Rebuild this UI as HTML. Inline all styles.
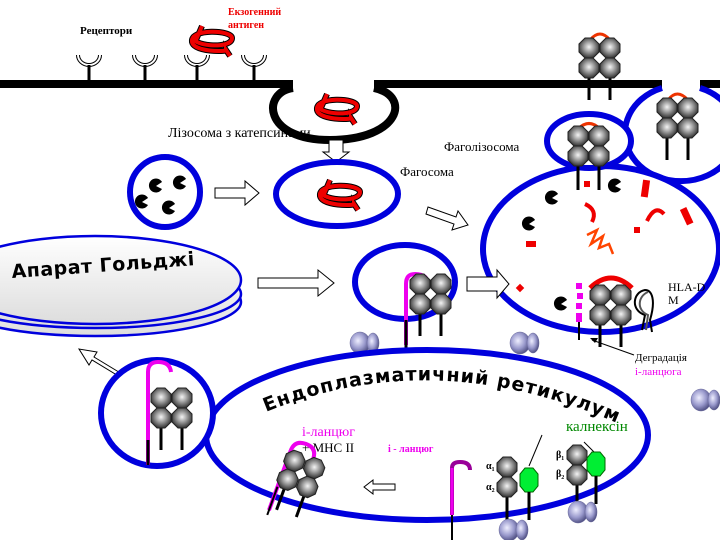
<!DOCTYPE html>
<html><head><meta charset="utf-8"><style>html,body{margin:0;padding:0;background:#fff}svg{display:block}</style></head>
<body>
<svg width="720" height="540" viewBox="0 0 720 540" xmlns="http://www.w3.org/2000/svg" font-family="'Liberation Serif',serif">
<defs>
<radialGradient id="gb" cx="50%" cy="45%" r="55%"><stop offset="0" stop-color="#f4f4f4"/><stop offset="0.45" stop-color="#a0a0a0"/><stop offset="1" stop-color="#333"/></radialGradient>
<radialGradient id="rb" cx="40%" cy="40%" r="60%"><stop offset="0" stop-color="#eef"/><stop offset="0.6" stop-color="#99c"/><stop offset="1" stop-color="#558"/></radialGradient>
<linearGradient id="gg" x1="0" y1="0" x2="0" y2="1"><stop offset="0" stop-color="#fff"/><stop offset="1" stop-color="#ddd"/></linearGradient>
<g id="ball"><polygon points="-4,-10 4,-10 10,-4 10,4 4,10 -4,10 -10,4 -10,-4" fill="url(#gb)" stroke="#222" stroke-width="1"/></g>
<g id="chain"><line x1="0" y1="0" x2="0" y2="52" stroke="#000" stroke-width="3"/><use href="#ball"/><use href="#ball" y="20"/></g>
<g id="mhc"><use href="#chain" x="-11"/><use href="#chain" x="10"/></g>
<g id="rib"><ellipse cx="-5" cy="0" rx="10" ry="11" fill="url(#rb)" stroke="#669" stroke-width="0.5"/><ellipse cx="8" cy="0" rx="6" ry="10" fill="url(#rb)" stroke="#669" stroke-width="0.5"/></g>
<g id="pac"><path d="M6,-3 A7,7 0 1,0 6,4 L0,1 Z" fill="#000"/></g>
<g id="rec"><path d="M-11,-9 A11,10 0 0,0 11,-9" fill="none" stroke="#000" stroke-width="4"/><path d="M-11,-9 A11,10 0 0,0 11,-9" fill="none" stroke="#fff" stroke-width="2"/><line x1="0" y1="1" x2="0" y2="20" stroke="#000" stroke-width="3"/></g>
<g id="ag"><path d="M-10,-14 L-16,0 M-18,-4 C-24,6 20,10 20,-2 C20,-10 -22,-12 -20,2 C-18,12 14,12 14,10 L18,16" fill="none" stroke="#000" stroke-width="6"/><path d="M-10,-14 L-16,0 M-18,-4 C-24,6 20,10 20,-2 C20,-10 -22,-12 -20,2 C-18,12 14,12 14,10 L18,16" fill="none" stroke="#e00" stroke-width="4"/></g>
<g id="oct"><polygon points="-4,-12 4,-12 9,-6 9,6 4,12 -4,12 -9,6 -9,-6" fill="#0e3" stroke="#060" stroke-width="1"/><line x1="0" y1="12" x2="0" y2="40" stroke="#000" stroke-width="3"/></g>
</defs>

<line x1="0" y1="84" x2="293" y2="84" stroke="#000" stroke-width="8"/>
<line x1="374" y1="84" x2="662" y2="84" stroke="#000" stroke-width="8"/>
<line x1="700" y1="84" x2="720" y2="84" stroke="#000" stroke-width="8"/>
<path d="M293,88 C262,92 262,140 330,140 C400,140 412,96 374,88" fill="none" stroke="#000" stroke-width="8"/>
<use href="#ag" x="337" y="108"/>

<use href="#rec" x="89" y="64"/><use href="#rec" x="145" y="64"/><use href="#rec" x="197" y="64"/><use href="#rec" x="254" y="64"/>
<text x="80" y="34" font-size="11" font-weight="bold">Рецептори</text>
<text x="228" y="15" font-size="10" font-weight="bold" fill="#e00">Екзогенний</text>
<text x="228" y="28" font-size="10" font-weight="bold" fill="#e00">антиген</text>
<use href="#ag" x="212" y="40"/>

<text x="168" y="137" font-size="14">Лізосома з катепсинами</text>
<path d="M329,140 h14 v12 h6 l-13,10 l-13,-10 h6 z" fill="#fff" stroke="#000" stroke-width="1"/>

<circle cx="165" cy="192" r="35" fill="#fff" stroke="#00d" stroke-width="6"/>
<use href="#pac" x="156" y="185"/><use href="#pac" x="180" y="182"/><use href="#pac" x="142" y="201"/><use href="#pac" x="169" y="207"/>
<path d="M215,188 h30 v-7 l14,12 l-14,12 v-7 h-30 z" fill="#fff" stroke="#000"/>

<ellipse cx="337" cy="194" rx="61" ry="32" fill="#fff" stroke="#00d" stroke-width="6"/>
<use href="#ag" x="340" y="194"/>
<text x="400" y="176" font-size="13">Фагосома</text>
<text x="444" y="151" font-size="13">Фаголізосома</text>
<path d="M428,207 l28,10 l2,-6 l10,14 l-16,5 l2,-6 l-28,-10 z" fill="#fff" stroke="#000"/>

<path d="M662,88 A56,48 0 1,0 700,88" fill="none" stroke="#00d" stroke-width="6"/>
<path d="M668,100 Q677,88 688,100" fill="none" stroke="#e30" stroke-width="3"/>
<use href="#mhc" x="678" y="108"/>
<path d="M590,40 Q600,28 610,40" fill="none" stroke="#e30" stroke-width="3"/>
<use href="#mhc" x="600" y="48"/>

<ellipse cx="601" cy="249" rx="118" ry="83" fill="#fff" stroke="#00d" stroke-width="6"/>
<ellipse cx="589" cy="141" rx="42" ry="27" fill="#fff" stroke="#00d" stroke-width="6"/>
<path d="M578,129 Q589,118 600,129" fill="none" stroke="#e30" stroke-width="3"/>
<use href="#mhc" x="589" y="136"/>
<line x1="578" y1="170" x2="578" y2="190" stroke="#000" stroke-width="3"/><line x1="599" y1="170" x2="599" y2="190" stroke="#000" stroke-width="3"/>
<rect x="584" y="181" width="6" height="6" fill="#e00"/>
<use href="#pac" x="615" y="185"/><use href="#pac" x="552" y="197"/><use href="#pac" x="529" y="223"/><use href="#pac" x="561" y="303"/>
<rect x="642" y="180" width="7" height="17" fill="#e00" transform="rotate(8 645 188)"/>
<rect x="683" y="208" width="7" height="17" fill="#e00" transform="rotate(-25 686 216)"/>
<rect x="634" y="227" width="6" height="6" fill="#e00"/><rect x="526" y="241" width="10" height="6" fill="#e00"/>
<rect x="517" y="285" width="6" height="6" fill="#e00" transform="rotate(45 520 288)"/>
<path d="M585,204 Q598,210 592,222" fill="none" stroke="#e00" stroke-width="4"/>
<path d="M647,221 Q655,204 664,214" fill="none" stroke="#e00" stroke-width="4"/>
<path d="M587,235 l10,-5 l-6,14 l12,-8 l-4,12 l10,-4 l4,10" fill="none" stroke="#f40" stroke-width="2.5"/>
<path d="M590,288 Q611,268 632,288" fill="none" stroke="#e00" stroke-width="5"/>
<use href="#mhc" x="611" y="295"/>
<rect x="576" y="283" width="6" height="6" fill="#e0e"/><rect x="577" y="293" width="6" height="6" fill="#e0e"/><rect x="576" y="303" width="6" height="6" fill="#e0e"/><rect x="576" y="313" width="6" height="9" fill="#e0e"/>
<line x1="579" y1="322" x2="579" y2="340" stroke="#000" stroke-width="2"/>
<path d="M642,330 L645,315 C630,310 633,292 645,290 C652,290 656,300 650,320 L652,332" fill="none" stroke="#000" stroke-width="2"/>
<path d="M646,330 L648,315 C636,310 638,296 648,292" fill="none" stroke="#555" stroke-width="2"/>
<text x="668" y="291" font-size="12">HLA-D</text><text x="668" y="304" font-size="12">M</text>
<text x="635" y="361" font-size="11">Деградація</text>
<text x="635" y="375" font-size="11" fill="#e0e">і-ланцюга</text>
<line x1="634" y1="355" x2="592" y2="340" stroke="#000" stroke-width="1"/><path d="M590,338 l8,0 l-3,5 z" fill="#000"/>

<ellipse cx="405" cy="282" rx="50" ry="37" fill="#fff" stroke="#00d" stroke-width="6"/>
<path d="M406,345 V284 Q406,274 415,274 Q428,274 428,285" fill="none" stroke="#e0e" stroke-width="4"/>
<use href="#mhc" x="431" y="284"/>
<line x1="406" y1="320" x2="406" y2="352" stroke="#000" stroke-width="3"/>
<path d="M467,277 h30 v-7 l12,14 l-12,14 v-7 h-30 z" fill="#fff" stroke="#000"/>

<ellipse cx="95" cy="302" rx="146" ry="34" fill="url(#gg)" stroke="#00d" stroke-width="2.5"/>
<ellipse cx="95" cy="294" rx="146" ry="34" fill="url(#gg)" stroke="#00d" stroke-width="2.5"/>
<ellipse cx="95" cy="280" rx="146" ry="44" fill="url(#gg)" stroke="#00d" stroke-width="2.5"/>
<text x="12" y="278" font-family="'DejaVu Sans',sans-serif" font-size="19" font-weight="bold" letter-spacing="0.5" transform="rotate(-4 12 278)">Апарат Гольджі</text>
<path d="M258,278 h60 v-8 l16,13 l-16,13 v-8 h-60 z" fill="#fff" stroke="#000"/>
<path d="M125,380 l-33,-20 l-3,5 l-10,-16 l18,3 l-3,5 l33,20 z" fill="#fff" stroke="#000"/>

<use href="#rib" x="365" y="343"/><use href="#rib" x="525" y="343"/><use href="#rib" x="706" y="400"/>

<ellipse cx="427" cy="435" rx="221" ry="85" fill="none" stroke="#00d" stroke-width="6"/>
<ellipse cx="157" cy="413" rx="56" ry="53" fill="#fff" stroke="#00d" stroke-width="6"/>
<path d="M148,465 V372 Q148,362 158,362 Q170,362 171,372" fill="none" stroke="#e0e" stroke-width="4"/>
<line x1="148" y1="440" x2="148" y2="465" stroke="#000" stroke-width="3"/>
<use href="#mhc" x="172" y="398"/>
<path id="erp" d="M266,412 Q430,345 610,420" fill="none"/>
<text font-family="'DejaVu Sans',sans-serif" font-size="19" font-weight="bold" letter-spacing="1"><textPath href="#erp">Ендоплазматичний  ретикулум</textPath></text>
<text x="302" y="436" font-size="14" fill="#e0e">і-ланцюг</text>
<text x="302" y="452" font-size="13">+ МНС II</text>
<text x="388" y="452" font-size="10" font-weight="bold" fill="#e0e">і - ланцюг</text>

<g transform="rotate(20 290 470)">
<path d="M284,515 V452 Q284,440 296,440 Q308,440 308,452" fill="none" stroke="#e0e" stroke-width="4"/>
<line x1="284" y1="490" x2="284" y2="520" stroke="#000" stroke-width="2"/>
<use href="#mhc" x="302" y="460"/>
</g>
<path d="M395,484 h-22 v-4 l-9,7 l9,7 v-4 h22 z" fill="#fff" stroke="#000"/>

<path d="M452,515 V468 Q452,462 460,462 Q470,462 470,470" fill="none" stroke="#909" stroke-width="4"/>
<path d="M452,515 V468" stroke="#e0e" stroke-width="3"/>
<line x1="452" y1="515" x2="452" y2="540" stroke="#000" stroke-width="2"/>

<text x="566" y="431" font-size="15" fill="#080">калнексін</text>
<line x1="542" y1="435" x2="529" y2="466" stroke="#000"/><line x1="584" y1="442" x2="594" y2="452" stroke="#000"/>
<use href="#chain" x="507" y="467"/>
<line x1="507" y1="519" x2="507" y2="530" stroke="#000" stroke-width="3"/>
<use href="#oct" x="529" y="480"/>
<text x="486" y="469" font-size="10" font-weight="bold">α₁</text><text x="486" y="490" font-size="10" font-weight="bold">α₂</text>
<use href="#chain" x="577" y="455"/>
<use href="#oct" x="596" y="464"/>
<text x="556" y="458" font-size="10" font-weight="bold">β₁</text><text x="556" y="477" font-size="10" font-weight="bold">β₂</text>
<use href="#rib" x="514" y="530"/><use href="#rib" x="583" y="512"/>
</svg>
</body></html>
